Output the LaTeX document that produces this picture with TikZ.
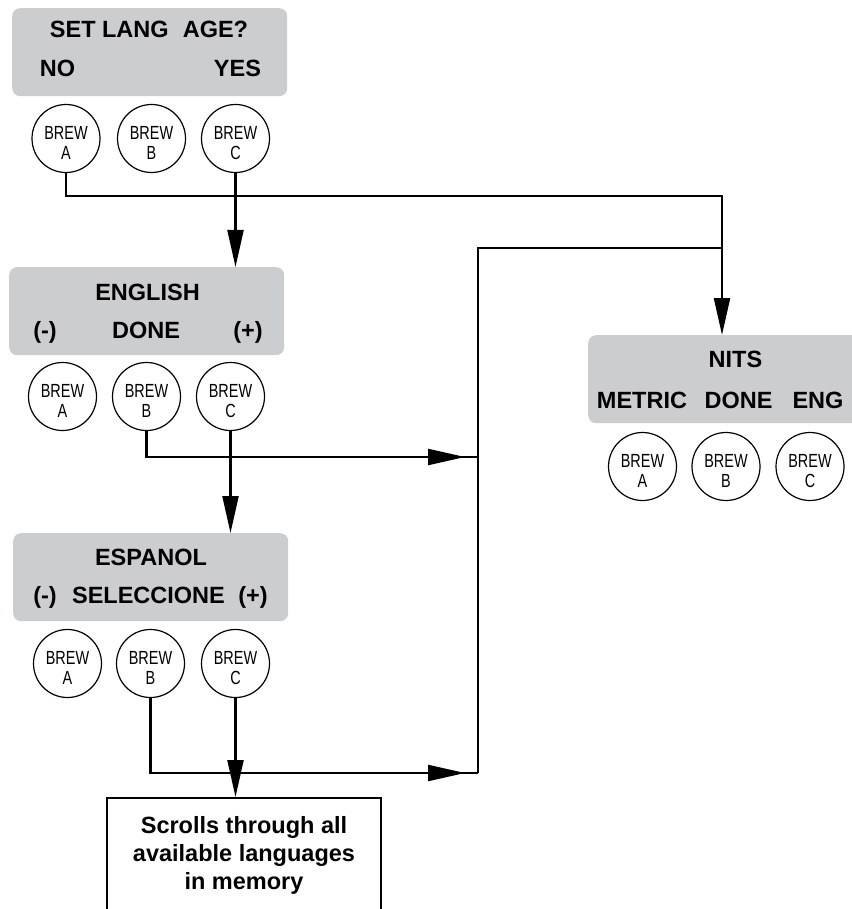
\documentclass[tikz,border=0pt]{standalone}
\usepackage{fontspec}
\setmainfont{Liberation Sans}
\newfontfamily\condfont[FakeStretch=0.76]{Liberation Sans}
\usetikzlibrary{arrows.meta,decorations.markings}
\definecolor{panelgray}{RGB}{204,205,207}
\newcommand\brewbtn[4]{%
  \node[btn] (#1) at (#2,#3) {};
  \node[btntxt] (#1w) at (#2,#3+1) {BREW};
  \node[btntxt] (#1l) at (#2,#3+21) {#4};
}
\begin{document}
\begin{tikzpicture}[x=1pt,y=-1pt,
  panel/.style={fill=panelgray, rounded corners=8pt, inner sep=0pt, anchor=north west, minimum width=275pt, minimum height=88pt},
  btn/.style={circle, draw, line width=1.2pt, minimum size=68pt, inner sep=0pt},
  btntxt/.style={anchor=base, inner sep=0pt, font=\condfont\fontsize{19}{21}\selectfont},
  ptxt/.style={anchor=base, inner sep=0pt, font=\fontsize{23.5}{28}\selectfont\bfseries},
  conn/.style={line width=2.2pt},
  tip/.style={-{Triangle[length=37pt,width=16pt]}},
  midtip/.style={postaction={decorate}, decoration={markings, mark=at position -13pt with {\arrow{Triangle[length=37pt,width=16pt]}}}}
]
\useasboundingbox (0,0) rectangle (851,909);

% panels
\node[panel] (p1) at (12,8) {};
\node[panel] (p2) at (9,267) {};
\node[panel] (p3) at (13,533) {};
\node[panel] (nits) at (588,335) {};

% panel texts
\node[ptxt] (t1a) at (149,38) {SET LANG\hspace{0.6em}AGE?};
\node[ptxt] (t1b) at (57.5,77) {NO};
\node[ptxt] (t1c) at (237.5,77) {YES};

\node[ptxt] (t2a) at (147.5,300) {ENGLISH};
\node[ptxt] (t2b) at (45,338) {(-)};
\node[ptxt] (t2c) at (146,338) {DONE};
\node[ptxt] (t2d) at (248,338) {(+)};

\node[ptxt] (t3a) at (151,565) {ESPANOL};
\node[ptxt] (t3b) at (45,603) {(-)};
\node[ptxt] (t3c) at (148.5,603) {SELECCIONE};
\node[ptxt] (t3d) at (253,603) {(+)};

\node[ptxt] (t4a) at (735.5,367) {NITS};
\node[ptxt] (t4b) at (642,408) {METRIC};
\node[ptxt] (t4c) at (738.5,408) {DONE};
\node[ptxt] (t4d) at (818,408) {ENG};

% buttons
\brewbtn{a1}{66}{138.5}{A}
\brewbtn{b1}{151.5}{138.5}{B}
\brewbtn{c1}{235.5}{138.5}{C}
\brewbtn{a2}{62.5}{396.5}{A}
\brewbtn{b2}{146.5}{396.5}{B}
\brewbtn{c2}{230.5}{396.5}{C}
\brewbtn{a3}{67.5}{663.5}{A}
\brewbtn{b3}{150.5}{663.5}{B}
\brewbtn{c3}{235.5}{663.5}{C}
\brewbtn{a4}{642.5}{466.5}{A}
\brewbtn{b4}{726}{466.5}{B}
\brewbtn{c4}{810}{466.5}{C}

% bottom box
\node[draw, line width=2pt, minimum width=274pt, minimum height=140pt, anchor=north, inner sep=0pt] (box) at (244,797) {};
\node[anchor=north, align=center, inner sep=0pt, font=\fontsize{23.5}{28}\selectfont\bfseries] (boxtxt) at (244,816) {Scrolls through all\\available languages\\in memory};

% junctions
\coordinate (j1) at (722,196);
\coordinate (j2) at (722,248);
\coordinate (j3) at (478,248);
\coordinate (j4) at (478,457);
\coordinate (j5) at (478,773);

% connectors
\draw[conn,tip] (a1.south) |- (j1) -- (j1 |- nits.north);
\draw[conn,tip] (c1.south) -- (c1.south |- p2.north);
\draw[conn,midtip] (b2.south) |- (j4);
\draw[conn,tip] (c2.south) -- (c2.south |- p3.north);
\draw[conn,midtip] (b3.south) |- (j5);
\draw[conn,tip] (c3.south) -- (c3.south |- box.north);
\draw[conn] (j5) -- (j3) -- (j2);
\end{tikzpicture}
\end{document}
